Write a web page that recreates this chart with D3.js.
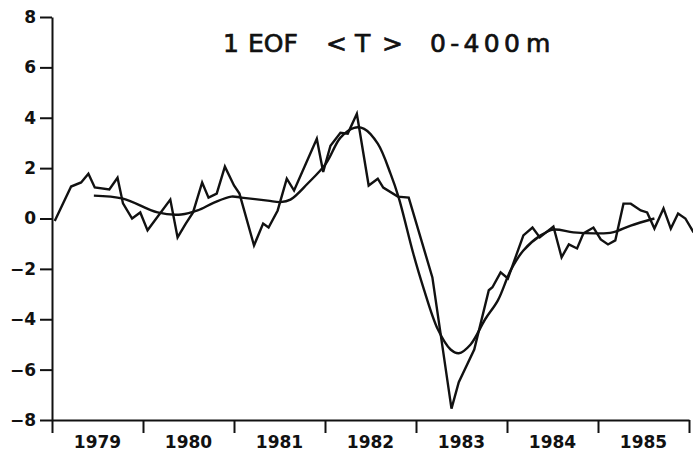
<!DOCTYPE html>
<html>
<head>
<meta charset="utf-8">
<script src="https://cdn.jsdelivr.net/npm/d3@7/dist/d3.min.js"></script>
<style>
  html, body { margin: 0; padding: 0; background: #fff; }
  svg { display: block; }
</style>
</head>
<body>
<div id="chart"></div>
<script>
// Monthly EOF amplitude (decimal year, value)
const rawTimes = [1979.03, 1979.21, 1979.32, 1979.40, 1979.47, 1979.63, 1979.72, 1979.78, 1979.88, 1979.97,
  1980.05, 1980.30, 1980.38, 1980.47, 1980.55, 1980.65, 1980.72, 1980.81, 1980.90, 1981.00,
  1981.06, 1981.22, 1981.32, 1981.38, 1981.48, 1981.58, 1981.66, 1981.91, 1981.98, 1982.06,
  1982.17, 1982.25, 1982.35, 1982.48, 1982.58, 1982.64, 1982.80, 1982.92, 1983.18, 1983.39,
  1983.47, 1983.64, 1983.80, 1983.84, 1983.93, 1984.01, 1984.18, 1984.28, 1984.36, 1984.51,
  1984.60, 1984.68, 1984.77, 1984.84, 1984.95, 1985.03, 1985.11, 1985.19, 1985.28, 1985.36,
  1985.47, 1985.54, 1985.62, 1985.72, 1985.80, 1985.88, 1985.96, 1986.05];
const rawValues = [-0.1, 1.27, 1.43, 1.78, 1.23, 1.15, 1.62, 0.6, 0.0, 0.24,
  -0.47, 0.75, -0.75, -0.2, 0.24, 1.43, 0.83, 0.99, 2.06, 1.31,
  0.99, -1.07, -0.2, -0.36, 0.32, 1.58, 1.11, 3.17, 1.85, 2.89,
  3.4, 3.37, 4.16, 1.31, 1.58, 1.23, 0.87, 0.83, -2.34, -7.55,
  -6.5, -5.2, -2.85, -2.73, -2.14, -2.38, -0.67, -0.36, -0.75, -0.32,
  -1.54, -1.03, -1.19, -0.59, -0.36, -0.83, -1.03, -0.87, 0.59, 0.59,
  0.32, 0.24, -0.4, 0.4, -0.4, 0.2, 0.0, -0.55];

// Smoothed curve
const smoothTimes = [1979.46, 1979.78, 1980.16, 1980.42, 1980.60, 1980.78, 1980.97, 1981.08, 1981.37, 1981.51,
  1981.62, 1981.81, 1982.01, 1982.17, 1982.32, 1982.43, 1982.58, 1982.72, 1982.81, 1982.97,
  1983.08, 1983.24, 1983.38, 1983.47, 1983.60, 1983.76, 1983.90, 1984.04, 1984.18, 1984.37,
  1984.51, 1984.73, 1984.99, 1985.16, 1985.36, 1985.62];
const smoothValues = [0.91, 0.79, 0.24, 0.16, 0.32, 0.63, 0.87, 0.83, 0.71, 0.65,
  0.75, 1.39, 2.18, 3.21, 3.6, 3.56, 2.97, 1.78, 0.83, -1.39,
  -2.73, -4.4, -5.2, -5.35, -5.0, -4.0, -3.25, -2.06, -1.27, -0.67,
  -0.44, -0.55, -0.59, -0.55, -0.28, 0.0];

const yearTicks = [1979, 1980, 1981, 1982, 1983, 1984, 1985, 1986];
const yearLabels = ['1979', '1980', '1981', '1982', '1983', '1984', '1985'];
const yTicks = [-8, -6, -4, -2, 0, 2, 4, 6, 8];

const width = 693, height = 457;
const ink = '#111';
const font = 'DejaVu Sans, sans-serif';

const svg = d3.select('#chart').append('svg')
  .attr('width', width)
  .attr('height', height);

const x = d3.scaleLinear().domain([1979, 1986]).range([52, 689]);
const y = d3.scaleLinear().domain([-8, 8]).range([420, 17]);

// Y axis
const yAxis = d3.axisLeft(y)
  .tickValues(yTicks)
  .tickSize(12)
  .tickSizeOuter(0)
  .tickPadding(4)
  .tickFormat(d => d < 0 ? '\u2212' + Math.abs(d) : d);

const gy = svg.append('g')
  .attr('transform', `translate(${x(1979)},0)`)
  .call(yAxis);

gy.select('.domain').attr('stroke', ink).attr('stroke-width', 2);
gy.selectAll('.tick line').attr('stroke', ink).attr('stroke-width', 2);
gy.selectAll('.tick text')
  .attr('fill', ink)
  .attr('font-family', font)
  .attr('font-size', '17px')
  .attr('font-weight', 'bold');

// X axis: ticks at year boundaries, labels mid-year
const xAxis = d3.axisBottom(x)
  .tickValues(yearTicks)
  .tickSize(13)
  .tickSizeOuter(0)
  .tickFormat('');

const gx = svg.append('g')
  .attr('transform', `translate(0,${y(-8)})`)
  .call(xAxis);

gx.select('.domain').attr('stroke', ink).attr('stroke-width', 2);
gx.selectAll('.tick line').attr('stroke', ink).attr('stroke-width', 2);

svg.append('g')
  .selectAll('text')
  .data(yearLabels)
  .enter()
  .append('text')
  .attr('x', (d, i) => x(yearTicks[i] + 0.5))
  .attr('y', 448)
  .attr('text-anchor', 'middle')
  .attr('fill', ink)
  .attr('font-family', font)
  .attr('font-size', '17px')
  .attr('font-weight', 'bold')
  .text(d => d);

// Lines
const raw = rawTimes.map((t, i) => ({ t, v: rawValues[i] }));
const smooth = smoothTimes.map((t, i) => ({ t, v: smoothValues[i] }));

svg.append('path')
  .datum(raw)
  .attr('fill', 'none')
  .attr('stroke', ink)
  .attr('stroke-width', 2.4)
  .attr('stroke-linejoin', 'miter')
  .attr('d', d3.line().x(d => x(d.t)).y(d => y(d.v)));

svg.append('path')
  .datum(smooth)
  .attr('fill', 'none')
  .attr('stroke', ink)
  .attr('stroke-width', 2.4)
  .attr('d', d3.line().curve(d3.curveCatmullRom).x(d => x(d.t)).y(d => y(d.v)));

// Title, set in pieces to keep the wide spacing of the original
const titleParts = [
  { s: '1', x: 223 },
  { s: 'EOF', x: 248 },
  { s: '<', x: 326 },
  { s: 'T', x: 355 },
  { s: '>', x: 382 },
  { s: '0-400', x: 430, len: 90 },
  { s: 'm', x: 526 }
];
const title = svg.append('g')
  .attr('font-family', font)
  .attr('font-size', '25px')
  .attr('fill', ink)
  .attr('stroke', ink)
  .attr('stroke-width', 0.7);
titleParts.forEach(p => {
  const t = title.append('text')
    .attr('x', p.x)
    .attr('y', 52)
    .text(p.s);
  if (p.len) t.attr('textLength', p.len).attr('lengthAdjust', 'spacing');
});
</script>
</body>
</html>
